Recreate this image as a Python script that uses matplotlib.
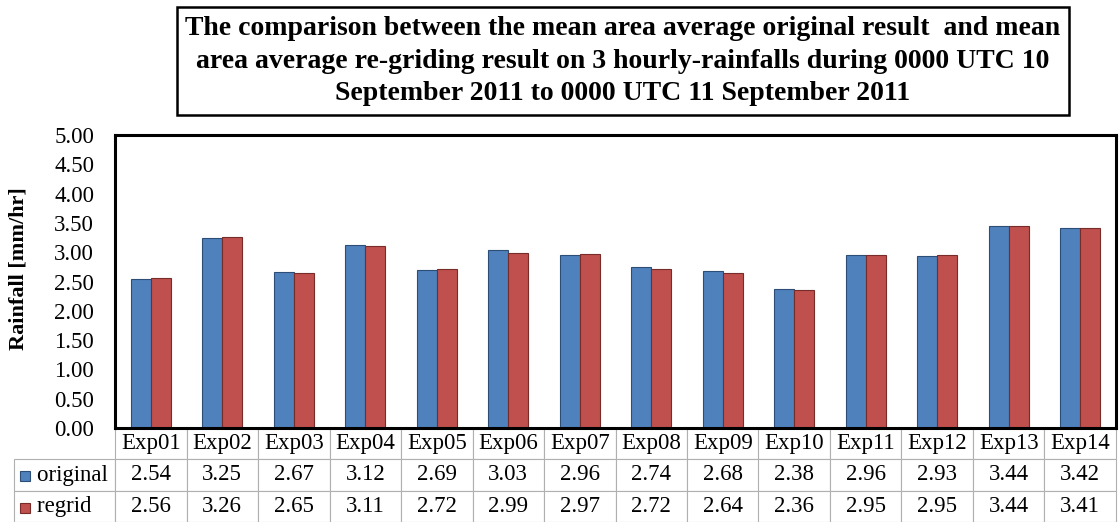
import numpy as np
import matplotlib.pyplot as plt

plt.rcParams['font.family'] = ['Liberation Serif', 'DejaVu Serif']

exps = ['Exp01', 'Exp02', 'Exp03', 'Exp04', 'Exp05', 'Exp06', 'Exp07',
        'Exp08', 'Exp09', 'Exp10', 'Exp11', 'Exp12', 'Exp13', 'Exp14']
original = [2.54, 3.25, 2.67, 3.12, 2.69, 3.03, 2.96, 2.74, 2.68, 2.38, 2.96, 2.93, 3.44, 3.42]
regrid = [2.56, 3.26, 2.65, 3.11, 2.72, 2.99, 2.97, 2.72, 2.64, 2.36, 2.95, 2.95, 3.44, 3.41]
series = ['original', 'regrid']
colors = ['#4f81bd', '#c0504d']
edges = ['#2c4d75', '#772c2a']

fig = plt.figure(figsize=(11.2, 5.22), dpi=100)
ax = fig.add_axes([115/1120, 1-428/522, 1001/1120, 293/522])

x = np.arange(len(exps))
w = 0.28
ax.bar(x - w/2, original, w, color=colors[0], edgecolor=edges[0], linewidth=0.8)
ax.bar(x + w/2, regrid, w, color=colors[1], edgecolor=edges[1], linewidth=0.8)

ax.set_xlim(-0.5, len(exps) - 0.5)
ax.set_ylim(0, 5)
yt = np.arange(0, 5.01, 0.5)
ax.set_yticks(yt)
ax.set_yticklabels(['%.2f' % v for v in yt], fontsize=16.5)
ax.set_xticks([])
ax.tick_params(axis='y', length=0, pad=15)
for s in ax.spines.values():
    s.set_linewidth(2.2)
fig.text(19/1120, 1-269/522, 'Rainfall [mm/hr]', rotation=90, ha='center', va='center',
         fontsize=16, fontweight='bold')

# data table under the plot
cell_text = [[''] + exps,
             ['    ' + series[0]] + ['%.2f' % v for v in original],
             ['    ' + series[1]] + ['%.2f' % v for v in regrid]]
tot = 101 + 71.5 * 14
col_w = [101/tot] + [71.5/tot] * 14
tab = ax.table(cellText=cell_text, colWidths=col_w, cellLoc='center',
               bbox=[-101/1001, -94/293, tot/1001, 94/293])
tab.auto_set_font_size(False)
tab.set_fontsize(16.5)
for (r, c), cell in tab.get_celld().items():
    cell.set_edgecolor('#b0b0b0')
    cell.set_linewidth(0.8)
    if c == 0:
        cell.get_text().set_ha('left')
        cell._loc = 'left'
        cell.PAD = 0.0
    if r == 0 and c == 0:
        cell.visible_edges = 'open'
for i, name in enumerate(series):
    ax.plot([-90/1001], [(-48 - 32*i)/293], marker='s', ms=7.5, color=colors[i],
            mec=edges[i], mew=0.8, transform=ax.transAxes, clip_on=False)

fig.text(623/1120, 1-61/522,
         'The comparison between the mean area average original result  and mean\n'
         'area average re-griding result on 3 hourly-rainfalls during 0000 UTC 10\n'
         'September 2011 to 0000 UTC 11 September 2011',
         ha='center', va='center', fontsize=20, fontweight='bold', linespacing=1.4,
         bbox=dict(boxstyle='square,pad=0.32', fc='white', ec='black', lw=1.8))

fig.savefig('out.png', dpi=100)
